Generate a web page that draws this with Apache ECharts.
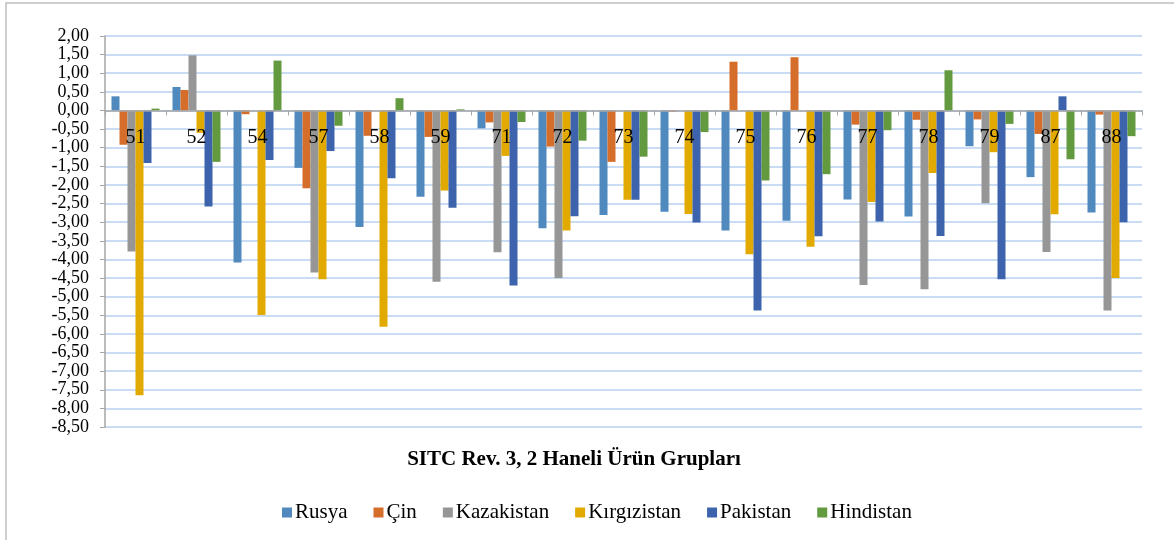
<!DOCTYPE html>
<html>
<head>
<meta charset="utf-8">
<script src="https://cdn.jsdelivr.net/npm/echarts@6/dist/echarts.min.js"></script>
<style>
  html, body { margin: 0; padding: 0; background: #fff; }
  #chart { width: 1174px; height: 540px; }
</style>
</head>
<body>
<div id="chart"></div>
<script>
// ürün grupları (SITC Rev. 3, 2 haneli)
var categories = ['51', '52', '54', '57', '58', '59', '71', '72', '73', '74', '75', '76', '77', '78', '79', '87', '88'];
var seriesNames = ['Rusya', 'Çin', 'Kazakistan', 'Kırgızistan', 'Pakistan', 'Hindistan'];
var colors = ['#4f89be', '#d56d2b', '#969696', '#e2aa00', '#3d63ad', '#639a3f'];

var rusya       = [0.38, 0.63, -4.08, -1.54, -3.13, -2.32, -0.48, -3.16, -2.81, -2.72, -3.22, -2.96, -2.39, -2.85, -0.96, -1.79, -2.74];
var cin         = [-0.92, 0.55, -0.10, -2.09, -0.68, -0.71, -0.32, -0.97, -1.38, -0.03, 1.31, 1.43, -0.38, -0.25, -0.24, -0.63, -0.11];
var kazakistan  = [-3.79, 1.48, 0, -4.35, 0, -4.60, -3.81, -4.50, 0, 0, 0, 0, -4.69, -4.80, -2.49, -3.80, -5.37];
var kirgizistan = [-7.65, -0.60, -5.49, -4.53, -5.81, -2.15, -1.22, -3.22, -2.40, -2.78, -3.86, -3.66, -2.46, -1.68, -1.12, -2.79, -4.50];
var pakistan    = [-1.41, -2.58, -1.33, -1.09, -1.82, -2.61, -4.70, -2.84, -2.40, -3.01, -5.37, -3.38, -2.98, -3.37, -4.53, 0.38, -3.00];
var hindistan   = [0.05, -1.38, 1.34, -0.41, 0.33, 0.03, -0.31, -0.81, -1.24, -0.58, -1.88, -1.71, -0.53, 1.08, -0.36, -1.31, -0.69];

var yMin = -8.5, yMax = 2, yStep = 0.5;
var xTitle = 'SITC Rev. 3, 2 Haneli Ürün Grupları';
var FONT = '"Liberation Serif", "Times New Roman", serif';

var allData = [rusya, cin, kazakistan, kirgizistan, pakistan, hindistan];

var GRID_TOP = 36, GRID_BOTTOM = 113, H = 540;
// kategori ekseni sıfır çizgisinde: üstten içeri kaydır
var plotH = H - GRID_TOP - GRID_BOTTOM;
var zeroOffset = plotH * yMax / (yMax - yMin);

var chart = echarts.init(document.getElementById('chart'));

var series = seriesNames.map(function (name, i) {
  return {
    name: name,
    type: 'bar',
    data: allData[i],
    barWidth: 8,
    barGap: '0%',
    itemStyle: { color: colors[i] }
  };
});

chart.setOption({
  animation: false,
  color: colors,
  textStyle: { fontFamily: FONT },
  graphic: [
    {
      type: 'rect',
      shape: { x: 6, y: 3, width: 1300, height: 700 },
      style: { fill: 'none', stroke: '#bfbfbf', lineWidth: 1.5 },
      silent: true
    },
    {
      type: 'text',
      x: 574, y: 460,
      style: {
        text: xTitle,
        fontFamily: FONT,
        fontSize: 21,
        fontWeight: 'bold',
        fill: '#000',
        align: 'center',
        verticalAlign: 'middle'
      }
    }
  ],
  legend: {
    data: seriesNames,
    left: 277,
    top: 497,
    itemWidth: 10,
    itemHeight: 10,
    itemGap: 26,
    icon: 'rect',
    textStyle: { fontFamily: FONT, fontSize: 21, color: '#000', padding: [0, 0, 0, -2] }
  },
  grid: { left: 105, right: 32, top: GRID_TOP, bottom: GRID_BOTTOM },
  xAxis: {
    type: 'category',
    data: categories,
    position: 'top',
    offset: -zeroOffset,
    z: 3,
    axisLine: { onZero: false, lineStyle: { color: '#a6a6a6', width: 1.5 } },
    axisTick: { show: true, inside: true, length: 5, lineStyle: { color: '#a6a6a6' } },
    axisLabel: { inside: true, fontFamily: FONT, fontSize: 20, color: '#000', margin: 17 },
    splitLine: { show: false }
  },
  yAxis: {
    type: 'value',
    min: yMin,
    max: yMax,
    interval: yStep,
    axisLine: { show: true, lineStyle: { color: '#a6a6a6', width: 1.5 } },
    axisTick: { show: true, length: 5, lineStyle: { color: '#a6a6a6' } },
    axisLabel: {
      fontFamily: FONT, fontSize: 18, color: '#000', margin: 16,
      showMinLabel: true, showMaxLabel: true, hideOverlap: false,
      formatter: function (v) { return v.toFixed(2).replace('.', ','); }
    },
    splitLine: { lineStyle: { color: '#b7d0f0', width: 1.5 } }
  },
  series: series
});
</script>
</body>
</html>
